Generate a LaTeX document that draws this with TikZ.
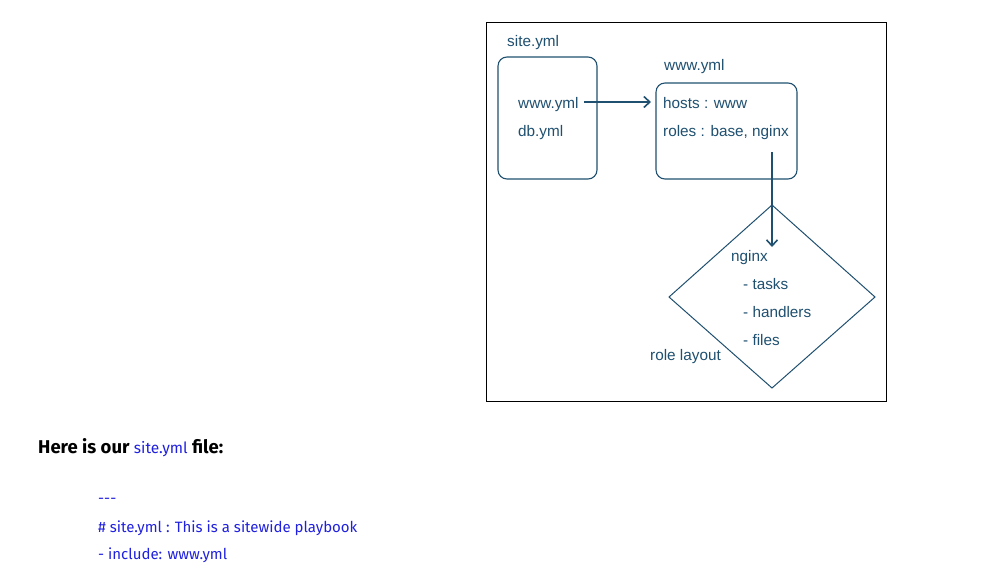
\documentclass[tikz,border=0pt]{standalone}
\usepackage{fontspec}
\setmainfont{Liberation Sans}
\newfontfamily\bodyfont{Fira Sans}
\usetikzlibrary{arrows.meta}
\definecolor{dg}{HTML}{1F5070}
\definecolor{codeblue}{HTML}{2020E0}
\begin{document}
\begin{tikzpicture}[x=1pt,y=-1pt,
  lbl/.style={anchor=base west,inner sep=0pt,text=dg,font=\fontsize{15.3}{18}\selectfont},
  rbox/.style={draw=dg,line width=1.1pt,rounded corners=9pt},
  conn/.style={draw=dg,line width=1.4pt,-{Straight Barb[length=6pt,width=11pt,line width=1.6pt]}},
  code/.style={anchor=base west,inner sep=0pt,text=codeblue,font=\bodyfont\fontsize{15}{17}\selectfont}]
\useasboundingbox (0,0) rectangle (981,576);
\fill[white] (0,0) rectangle (981,576);
\draw[black,line width=0.8pt] (486,22) rectangle (886,401);
% site.yml box
\node[lbl] (sitelbl) at (507,46) {site.yml};
\draw[rbox] (498,57) rectangle (597,179);
\node[lbl] (wwwitem) at (518,108) {www.yml};
\node[lbl] (dbitem) at (518,136) {db.yml};
% www.yml box
\node[lbl] (wwwlbl) at (664,70) {www.yml};
\draw[rbox] (656,83) rectangle (797,179);
\node[lbl] (hosts) at (663,108) {hosts : www};
\node[lbl] (roles) at (663,136) {roles : base, nginx};
% diamond
\coordinate (dt) at (772,205);
\coordinate (dl) at (669,297);
\coordinate (dr) at (875,297);
\coordinate (db) at (772,388);
\draw[dg,line width=1pt] (dt) -- (dr) -- (db) -- (dl) -- cycle;
\node[lbl] (nginx) at (731,261) {nginx};
\node[lbl] (tasks) at (743,289) {- tasks};
\node[lbl] (handlers) at (743,317) {- handlers};
\node[lbl] (files) at (743,345) {- files};
\node[lbl] (rolelayout) at (650,360) {role layout};
% connectors
\coordinate (a1s) at (584,102);
\coordinate (a1e) at (651,102);
\draw[conn] (a1s) -- (a1e);
\coordinate (a2s) at (772,152);
\coordinate (a2e) at (772,247);
\draw[conn] (a2s) -- (a2e);
% text below
\node[anchor=base west,inner sep=0pt,font=\bodyfont\bfseries\fontsize{18.5}{20}\selectfont] (here) at (38,453)
  {Here is our \textcolor{codeblue}{\mdseries\fontsize{15.5}{17}\selectfont site.yml} file:};
\node[code] (c1) at (98,503) {---};
\node[code] (c2) at (98,532) {\# site.yml : This is a sitewide playbook};
\node[code] (c3) at (98,559) {- include: www.yml};
\end{tikzpicture}
\end{document}
